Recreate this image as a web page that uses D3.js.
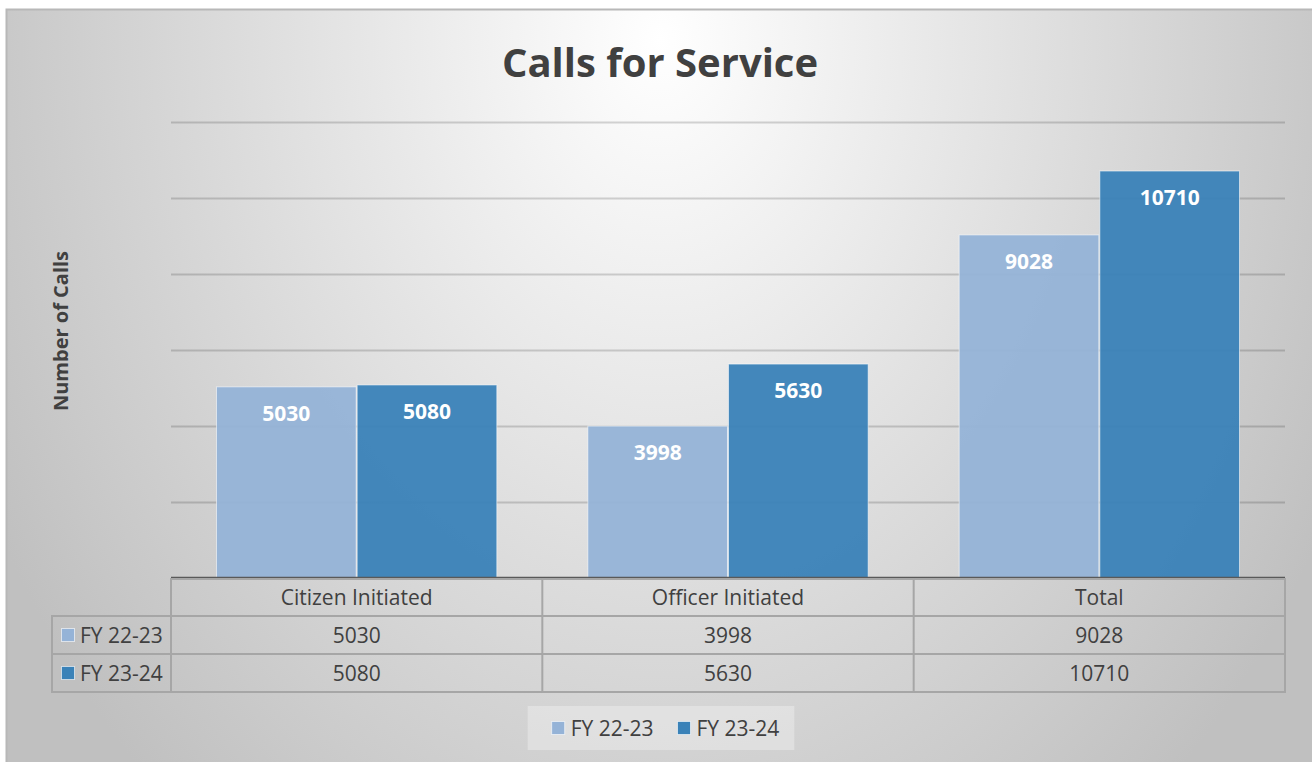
<!DOCTYPE html>
<html>
<head>
<meta charset="utf-8">
<script src="https://cdn.jsdelivr.net/npm/d3@7"></script>
<style>
  html, body { margin: 0; padding: 0; background: #fff; }
  svg { display: block; }
</style>
</head>
<body>
<svg id="chart" width="1312" height="762"></svg>
<script>
var categories = ["Citizen Initiated", "Officer Initiated", "Total"];
var seriesNames = ["FY 22-23", "FY 23-24"];
var fy2223 = [5030, 3998, 9028];
var fy2324 = [5080, 5630, 10710];
var yTicks = [0, 2000, 4000, 6000, 8000, 10000, 12000];
var seriesColors = ["#95b3d7", "#3a82b8"];

var seriesValues = [fy2223, fy2324];

var plotLeft = 171, plotRight = 1285, plotTop = 122, plotBottom = 578;
var rowHeight = 38;
var legendColLeft = 52;
var textColor = "#404040";
var fontFamily = "'Open Sans', 'DejaVu Sans', sans-serif";

var svg = d3.select("#chart");

// background
var defs = svg.append("defs");
var grad = defs.append("radialGradient")
    .attr("id", "bg")
    .attr("gradientUnits", "userSpaceOnUse")
    .attr("cx", 0).attr("cy", 0).attr("r", 1)
    .attr("gradientTransform", "translate(660,40) scale(760,1000)");
grad.append("stop").attr("offset", 0).attr("stop-color", "#ffffff");
grad.append("stop").attr("offset", 1).attr("stop-color", "#c0c0c0");

svg.append("rect")
    .attr("x", 6.5).attr("y", 9.5)
    .attr("width", 1400).attr("height", 800)
    .attr("fill", "url(#bg)")
    .attr("stroke", "#b8b8b8")
    .attr("stroke-width", 2);

// scales
var x0 = d3.scaleBand()
    .domain(categories)
    .range([plotLeft, plotRight])
    .paddingInner(0)
    .paddingOuter(0);

var x1 = d3.scaleBand()
    .domain(seriesNames)
    .range([0, x0.bandwidth()])
    .paddingInner(0)
    .paddingOuter(0.32);

var y = d3.scaleLinear()
    .domain([yTicks[0], yTicks[yTicks.length - 1]])
    .range([plotBottom, plotTop]);

var color = d3.scaleOrdinal().domain(seriesNames).range(seriesColors);

// gridlines
svg.append("g")
    .attr("transform", "translate(" + plotLeft + ",0)")
    .call(d3.axisLeft(y).tickValues(yTicks.slice(1)).tickSize(-(plotRight - plotLeft)).tickFormat(""))
    .call(function(g) {
        g.select(".domain").remove();
        g.selectAll(".tick line")
            .attr("stroke", "#000")
            .attr("stroke-opacity", 0.16)
            .attr("stroke-width", 2);
    });

// bars
var barData = [];
categories.forEach(function(c, i) {
    seriesNames.forEach(function(s, j) {
        barData.push({category: c, series: s, value: seriesValues[j][i]});
    });
});

var bars = svg.append("g").selectAll("g")
    .data(barData)
    .enter()
    .append("g")
    .attr("transform", function(d) {
        return "translate(" + (x0(d.category) + x1(d.series)) + ",0)";
    });

bars.append("rect")
    .attr("x", 0.5)
    .attr("y", function(d) { return y(d.value); })
    .attr("width", x1.bandwidth() - 1)
    .attr("height", function(d) { return y(0) - y(d.value); })
    .attr("fill", function(d) { return color(d.series); })
    .attr("fill-opacity", 0.95)
    .attr("stroke", "rgba(255,255,255,0.55)")
    .attr("stroke-width", 1);

bars.append("text")
    .attr("x", x1.bandwidth() / 2)
    .attr("y", function(d) { return y(d.value) + 34; })
    .attr("text-anchor", "middle")
    .attr("font-family", fontFamily)
    .attr("font-weight", "bold")
    .attr("font-size", 21)
    .attr("fill", "#fff")
    .text(function(d) { return d.value; });

// axis baseline
svg.append("line")
    .attr("x1", plotLeft).attr("x2", plotRight)
    .attr("y1", plotBottom - 0.5).attr("y2", plotBottom - 0.5)
    .attr("stroke", "#595959")
    .attr("stroke-width", 1.5);

// data table
var table = svg.append("g");
var tableTop = plotBottom + 1;
var tableBottom = plotBottom + rowHeight * (seriesNames.length + 1);
var lineColor = "#a6a6a6";

var hLines = [{x1: plotLeft, x2: plotRight, y: tableTop}];
d3.range(1, seriesNames.length + 2).forEach(function(r) {
    hLines.push({x1: legendColLeft, x2: plotRight, y: plotBottom + r * rowHeight});
});
table.selectAll(".hline")
    .data(hLines)
    .enter()
    .append("line")
    .attr("x1", function(d) { return d.x1; })
    .attr("x2", function(d) { return d.x2; })
    .attr("y1", function(d) { return d.y; })
    .attr("y2", function(d) { return d.y; })
    .attr("stroke", lineColor)
    .attr("stroke-width", 2);

var vLines = [{x: legendColLeft, y1: plotBottom + rowHeight}];
categories.forEach(function(c) { vLines.push({x: x0(c), y1: tableTop}); });
vLines.push({x: plotRight, y1: tableTop});
table.selectAll(".vline")
    .data(vLines)
    .enter()
    .append("line")
    .attr("x1", function(d) { return d.x; })
    .attr("x2", function(d) { return d.x; })
    .attr("y1", function(d) { return d.y1 - 1; })
    .attr("y2", tableBottom + 1)
    .attr("stroke", lineColor)
    .attr("stroke-width", 2);

// header row
table.selectAll(".head")
    .data(categories)
    .enter()
    .append("text")
    .attr("x", function(d) { return x0(d) + x0.bandwidth() / 2; })
    .attr("y", plotBottom + rowHeight / 2 + 7.5)
    .attr("text-anchor", "middle")
    .attr("font-family", fontFamily)
    .attr("font-size", 21)
    .attr("fill", textColor)
    .text(function(d) { return d; });

// series rows
var rows = table.selectAll(".row")
    .data(seriesNames)
    .enter()
    .append("g")
    .attr("transform", function(d, i) {
        return "translate(0," + (plotBottom + rowHeight * (i + 1)) + ")";
    });

rows.append("rect")
    .attr("x", legendColLeft + 9.5)
    .attr("y", rowHeight / 2 - 6.5)
    .attr("width", 13).attr("height", 13)
    .attr("fill", function(d) { return color(d); })
    .attr("stroke", "rgba(255,255,255,0.6)")
    .attr("stroke-width", 1);

rows.append("text")
    .attr("x", legendColLeft + 28)
    .attr("y", rowHeight / 2 + 7.5)
    .attr("font-family", fontFamily)
    .attr("font-size", 21)
    .attr("fill", textColor)
    .text(function(d) { return d; });

rows.selectAll(".val")
    .data(function(d, i) {
        return categories.map(function(c, k) { return {category: c, value: seriesValues[i][k]}; });
    })
    .enter()
    .append("text")
    .attr("x", function(d) { return x0(d.category) + x0.bandwidth() / 2; })
    .attr("y", rowHeight / 2 + 7.5)
    .attr("text-anchor", "middle")
    .attr("font-family", fontFamily)
    .attr("font-size", 21)
    .attr("fill", textColor)
    .text(function(d) { return d.value; });

// titles
svg.append("text")
    .attr("x", 660)
    .attr("y", 77)
    .attr("text-anchor", "middle")
    .attr("font-family", fontFamily)
    .attr("font-weight", "bold")
    .attr("font-size", 40)
    .attr("fill", textColor)
    .text("Calls for Service");

svg.append("text")
    .attr("transform", "translate(68,331) rotate(-90)")
    .attr("text-anchor", "middle")
    .attr("font-family", fontFamily)
    .attr("font-weight", "bold")
    .attr("font-size", 20)
    .attr("fill", textColor)
    .text("Number of Calls");

// legend
var legend = svg.append("g");
var legendBox = legend.append("rect")
    .attr("fill", "#ffffff")
    .attr("fill-opacity", 0.3);

var items = legend.selectAll(".item")
    .data(seriesNames)
    .enter()
    .append("g");

items.append("rect")
    .attr("y", -6.5)
    .attr("width", 13).attr("height", 13)
    .attr("fill", function(d) { return color(d); })
    .attr("stroke", "rgba(255,255,255,0.6)")
    .attr("stroke-width", 1);

items.append("text")
    .attr("x", 19)
    .attr("y", 7.5)
    .attr("font-family", fontFamily)
    .attr("font-size", 21)
    .attr("fill", textColor)
    .text(function(d) { return d; });

var cursor = 0;
items.each(function() {
    var g = d3.select(this);
    g.attr("transform", "translate(" + cursor + ",0)");
    cursor += 19 + g.select("text").node().getComputedTextLength() + 24;
});
var legendWidth = cursor - 24;
var padLeft = 24, padRight = 15;
var legendX = 661 - (legendWidth + padLeft + padRight) / 2 + padLeft;
var legendY = 728;
legend.attr("transform", "translate(" + legendX + "," + legendY + ")");
legendBox
    .attr("x", -padLeft).attr("y", -22)
    .attr("width", legendWidth + padLeft + padRight).attr("height", 44);
</script>
</body>
</html>
